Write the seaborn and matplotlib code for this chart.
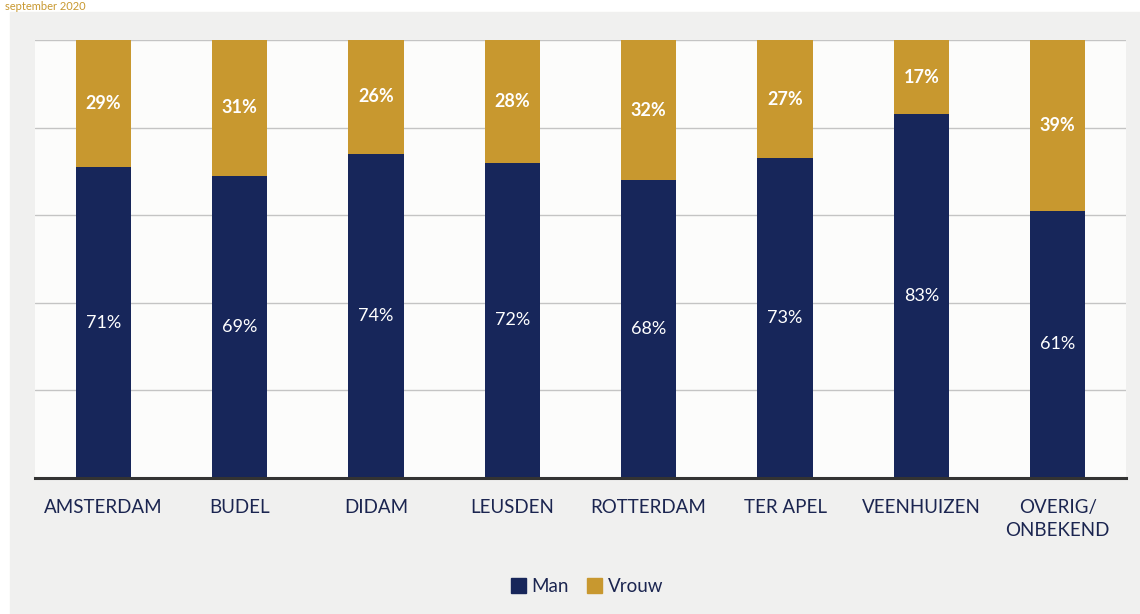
import matplotlib
matplotlib.use("Agg")
import matplotlib.pyplot as plt
from matplotlib.patches import Rectangle, Patch
import pandas as pd
import seaborn as sns

# data
locaties = ['AMSTERDAM', 'BUDEL', 'DIDAM', 'LEUSDEN', 'ROTTERDAM',
            'TER APEL', 'VEENHUIZEN', 'OVERIG/\nONBEKEND']
man = [71, 69, 74, 72, 68, 73, 83, 61]
vrouw = [29, 31, 26, 28, 32, 27, 17, 39]

navy = '#17265a'
gold = '#c8982f'
text_col = '#1b2550'

sns.set_style('white')
plt.rcParams['font.family'] = ['Lato', 'DejaVu Sans']

df = pd.DataFrame({'Locatie': locaties, 'Man': man, 'Vrouw': vrouw})
df['Totaal'] = df['Man'] + df['Vrouw']

fig = plt.figure(figsize=(11.4, 6.14), dpi=100, facecolor='white')
# grey panel behind the chart, like the scanned slide
fig.patches.append(Rectangle((10 / 1140, 0), 1, (614 - 12) / 614,
                             transform=fig.transFigure, color='#f0f0ef', zorder=-5))
fig.text(5 / 1140, 0.999, 'september 2020', color=gold, fontsize=8,
         va='top', ha='left')

ax = fig.add_axes([35 / 1140, 136 / 614, (1126 - 35) / 1140, (574 - 136) / 614])
ax.set_zorder(1)
ax.set_facecolor('#fcfcfb')

sns.barplot(data=df, x='Locatie', y='Totaal', color=gold, width=0.405,
            saturation=1, linewidth=0, ax=ax, zorder=3)
sns.barplot(data=df, x='Locatie', y='Man', color=navy, width=0.405,
            saturation=1, linewidth=0, ax=ax, zorder=4)

for i, (m, v) in enumerate(zip(man, vrouw)):
    ax.text(i, m / 2, f'{m}%', color='white', ha='center', va='center',
            fontsize=13, zorder=5)
    ax.text(i, m + v / 2, f'{v}%', color='white', ha='center', va='center',
            fontsize=13, fontweight='bold', zorder=5)

ax.set_ylim(0, 100)
ax.set_xlim(-0.5, len(locaties) - 0.5)
ax.set_yticks([20, 40, 60, 80, 100])
ax.yaxis.grid(True, color='#c4c4c4', linewidth=1)
ax.set_axisbelow(True)
ax.set_yticklabels([])
ax.tick_params(axis='y', length=0)
ax.tick_params(axis='x', length=0, pad=15, labelsize=13.5, labelcolor=text_col)
for lab in ax.get_xticklabels():
    lab.set_linespacing(1.45)
ax.set_xlabel('')
ax.set_ylabel('')
sns.despine(ax=ax, left=True, top=True, right=True)
ax.spines['bottom'].set_color('#333333')
ax.spines['bottom'].set_linewidth(2.2)
ax.spines['bottom'].set_zorder(6)

handles = [Patch(color=navy, label='Man'), Patch(color=gold, label='Vrouw')]
fig.legend(handles=handles, loc='center', bbox_to_anchor=(0.515, 0.045), ncol=2,
           frameon=False, fontsize=13.5, handlelength=0.8, handleheight=0.9,
           handletextpad=0.3, columnspacing=1.0, labelcolor=text_col)

fig.savefig('out.png', dpi=100, facecolor=fig.get_facecolor())
